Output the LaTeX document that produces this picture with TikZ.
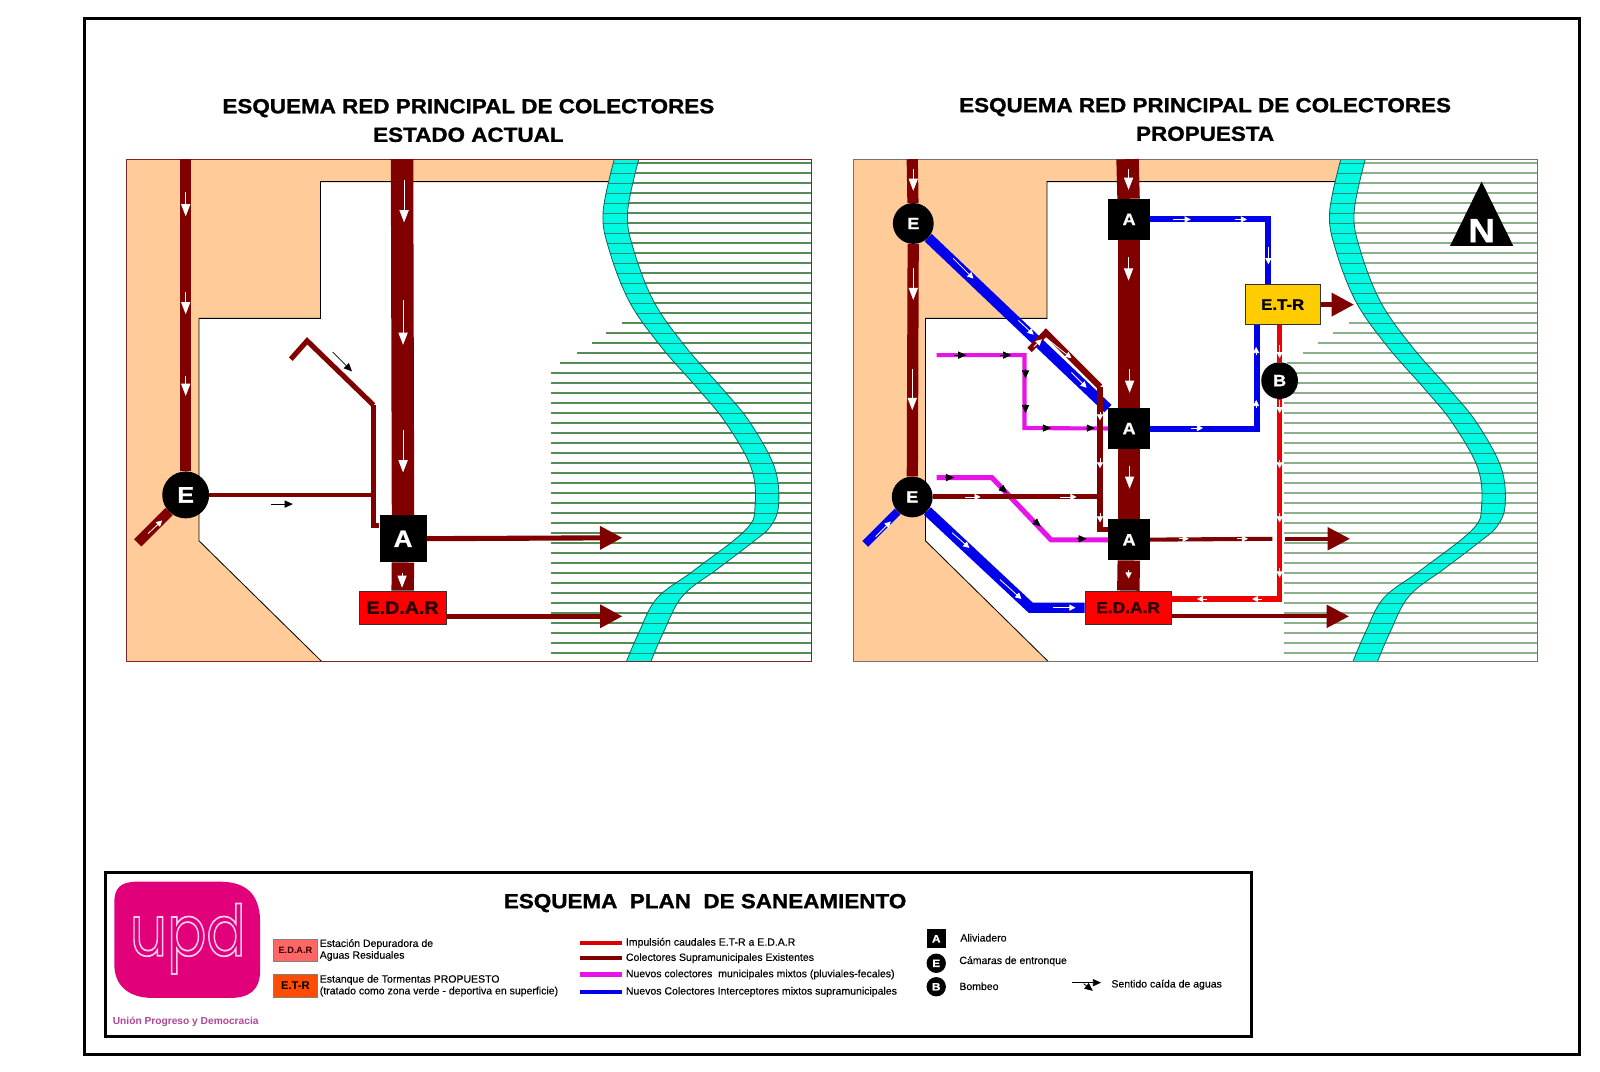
\documentclass[tikz,border=0pt]{standalone}
\usepackage{fontspec}
\setmainfont{Liberation Sans}
\newfontfamily\logofont{Poppins}
\newfontfamily\heavyfont{Liberation Sans Bold}[FakeBold=1.2,FakeStretch=1.1]
\newfontfamily\legfont{Liberation Sans}[FakeBold=0.3]
\usetikzlibrary{positioning, arrows.meta, calc}
\definecolor{sewerred}{RGB}{128,0,0}
\definecolor{newblue}{RGB}{0,0,235}
\definecolor{newpink}{RGB}{230,20,230}
\definecolor{pumpred}{RGB}{240,0,0}
\definecolor{cityorange}{RGB}{255,204,153}
\definecolor{rivercyan}{RGB}{0,250,225}
\definecolor{rivergrid}{RGB}{30,140,125}
\definecolor{updpink}{RGB}{226,0,122}
\definecolor{rowgreen}{RGB}{85,140,85}
\definecolor{rowpale}{RGB}{140,175,140}
\newcommand{\fs}[1]{\fontsize{#1}{#1}\selectfont}
\newcommand{\riverleft}{plot[smooth, tension=0.6] coordinates {(602,156) (591,208) (597,245) (617,296) (648,340) (684,381) (711,414) (736,458) (740,495) (731,519) (680,559) (644,586) (626,620) (614,648)}}
\newcommand{\riverright}{plot[smooth, tension=0.6] coordinates {(638,648) (650,620) (669,584) (704,557) (738,531) (755,516) (763,495) (759,458) (735,414) (708,381) (672,340) (641,296) (621,245) (615,208) (626,156)}}
\newcommand{\riverpath}{plot[smooth, tension=0.6] coordinates {(602,156) (591,208) (597,245) (617,296) (648,340) (684,381) (711,414) (736,458) (740,495) (731,519) (680,559) (644,586) (626,620) (614,648)}
  -- plot[smooth, tension=0.6] coordinates {(638,648) (650,620) (669,584) (704,557) (738,531) (755,516) (763,495) (759,458) (735,414) (708,381) (672,340) (641,296) (621,245) (615,208) (626,156)} -- cycle}
% orange city, green rows, river, frame
\newcommand{\basemap}[3]{
  \fill[cityorange] (124,156) -- (610,156) -- (604,178) -- (314,178) -- (314,312) -- (195,312) -- (195,530) -- (315,648) -- (124,648) -- cycle;
  \draw[line width=0.8pt] (604,178) -- (314,178) -- (314,312) -- (195,312) -- (195,530) -- (315,648);
  \foreach \k in {0,...,12} \draw[color=#1, line width=1.2pt] (608,{159.7+9.8*\k}) -- (795,{159.7+9.8*\k});
  \foreach \k in {13,14,15} \draw[color=#1, line width=1.2pt] (625,{159.7+9.8*\k}) -- (795,{159.7+9.8*\k});
  \foreach \k/\x in {16/610,17/594,18/580,19/565,20/549} \draw[color=#1, line width=1.2pt] (\x,{159.7+9.8*\k}) -- (795,{159.7+9.8*\k});
  \foreach \k in {21,...,49} \draw[color=#1, line width=1.2pt] (#3,{159.7+9.8*\k}) -- (795,{159.7+9.8*\k});
  \fill[rivercyan] \riverpath;
  \begin{scope}
    \clip \riverpath;
    \foreach \k in {0,...,49} \draw[rivergrid, line width=0.8pt] (560,{159.7+9.8*\k}) -- (780,{159.7+9.8*\k});
  \end{scope}
  \draw[color=rivergrid!70!black, line width=0.8pt] \riverleft;
  \draw[color=rivergrid!70!black, line width=0.8pt] \riverright;
  \draw[color=#2, line width=1pt] (124,156) rectangle (795,648);
}

\begin{document}
\begin{tikzpicture}[
  x=1pt, y=-1pt,
  title/.style={font=\heavyfont\fs{20}, align=center, inner sep=0pt, text depth=0pt},
  aliv/.style={fill=black, text=white, font=\heavyfont\fs{16}, minimum width=41pt, minimum height=40pt, inner sep=0pt},
  aliva/.style={aliv, font=\heavyfont\fs{23}, minimum width=46pt, minimum height=46pt},
  chamber/.style={circle, fill=black, text=white, font=\heavyfont\fs{16}, minimum size=40pt, inner sep=0pt},
  chambera/.style={chamber, font=\heavyfont\fs{22}, minimum size=46pt},
  plant/.style={draw=black!80, fill=red, font=\heavyfont\fs{15.5}, text=black!85!red, minimum width=85pt, minimum height=33pt, inner sep=0pt},
  pipe/.style={color=sewerred, line width=4pt},
  bigpipe/.style={color=sewerred, line width=22pt},
  midpipe/.style={color=sewerred, line width=11pt},
  bluepipe/.style={color=newblue, line width=10pt},
  outfall/.style={color=sewerred, line width=5pt, -{Triangle[length=22pt,width=22pt]}},
  flow/.style={white, line width=1pt, -{Triangle[length=12pt,width=9pt]}},
  flowsmall/.style={white, line width=0.8pt, -{Triangle[length=6pt,width=6pt]}},
  flowblack/.style={black, line width=0.8pt, -{Triangle[length=8pt,width=7pt]}},
  legtext/.style={anchor=west, font=\legfont\fontsize{10.3}{11.5}\selectfont, inner sep=0pt, align=left},
  legline/.style={minimum width=42pt, minimum height=4pt, inner sep=0pt}
]
\useasboundingbox (0,0) rectangle (1568,1050);
\draw[line width=3pt] (83,18) rectangle (1548,1033);

\node[title] (titlea) at (459,118) {ESQUEMA RED PRINCIPAL DE COLECTORES\\[8pt]ESTADO ACTUAL};
\node[title] (titleb) at (1181,117) {ESQUEMA RED PRINCIPAL DE COLECTORES\\[8pt]PROPUESTA};

% left map
\basemap{rowgreen}{sewerred!70!gray}{540}
\node[chambera] (e) at (182,485) {E};
\node[aliva] (a) at (395,528) {A};
\node[plant, font=\heavyfont\fs{17.5}] (edar) at (394.5,595.5) {E.D.A.R};
\coordinate (coltop) at (182,156);
\coordinate (maintop) at (394,156);
\coordinate (branch) at (135,532);
\coordinate (stub) at (285,352);
\coordinate (peak) at (301,334);
\coordinate (knee) at (366,397);
\coordinate (toe) at (366,515);
\coordinate (join) at (366,485);
\coordinate (outa) at (610,527);
\coordinate (outb) at (610,604);
\draw[midpipe] (coltop) -- (e);
\draw[color=sewerred, line width=10pt] (e) -- (branch);
\draw[bigpipe] (maintop) -- (a);
\draw[bigpipe] (a) -- (edar);
\draw[color=sewerred, line width=5pt] (stub) -- (peak) -- (knee);
\draw[pipe] (knee) -- (toe) -- (toe -| a.west);
\draw[pipe] (e) -- (join);
\draw[outfall] (a) -- (outa);
\draw[outfall] (outb -| edar.east) -- (outb);
\draw[flow] (182,188) -- (182,212);
\draw[flow] (182,286) -- (182,308);
\draw[flow] (182,368) -- (182,388);
\draw[flow] (396,176) -- (396,218);
\draw[flow] (395,294) -- (395,338);
\draw[flow] (395,421) -- (395,463);
\draw[flow] (394,562) -- (394,576);
\draw[flowsmall] (145,523) -- (159,510);
\draw[flowblack] (326,345) -- (345,364);
\draw[flowblack] (266,494) -- (287,494);

% right map
\begin{scope}[xshift=712pt]
  \basemap{rowpale}{black!55}{546}
\end{scope}
\node[chamber] (ea) at (895,219) {E};
\node[chamber] (eb) at (894,487) {E};
\node[chamber, minimum size=36pt] (b) at (1254,373) {B};
\node[aliv] (aa) at (1106.5,215) {A};
\node[aliv] (ab) at (1106.5,420) {A};
\node[aliv] (ac) at (1106.5,529) {A};
\node[plant] (edarb) at (1105.5,595.5) {E.D.A.R};
\node[draw=black!80, fill={rgb,255:red,255;green,204;blue,0}, font=\heavyfont\fs{15}, minimum width=74pt, minimum height=39pt, inner sep=0pt] (etr) at (1257,298.5) {E.T-R};
\coordinate (coltopb) at (894,156);
\coordinate (maintopb) at (1105,156);
\coordinate (branchb) at (848,533);
\coordinate (bluelow) at (1010,595.5);
\coordinate (bluea) at (1243,215);
\coordinate (blueb) at (1232,420);
\coordinate (redcorner) at (1254,587);
\coordinate (pinka) at (918,348);
\coordinate (pinkb) at (1004,348);
\coordinate (pinkc) at (1004,419.5);
\coordinate (pinkd) at (918,468);
\coordinate (pinke) at (972,468);
\coordinate (pinkf) at (1030,529);
\coordinate (stubb) at (1009,343);
\coordinate (peakb) at (1025,326);
\coordinate (kneeb) at (1078,379);
\coordinate (toeb) at (1078,519);
\coordinate (joinb) at (1078,487);
\coordinate (gapa) at (1247,528);
\coordinate (gapb) at (1259,528);
\coordinate (outc) at (1323,528);
\coordinate (outd) at (1322,604);
\coordinate (oute) at (1327,298.5);
\draw[midpipe] (coltopb) -- (ea);
\draw[midpipe] (ea) -- (eb);
\draw[bigpipe] (maintopb) -- (aa);
\draw[bigpipe] (aa) -- (ab);
\draw[bigpipe] (ab) -- (ac);
\draw[bigpipe] (ac) -- (edarb);
\draw[color=newpink, line width=4pt] (pinka) -- (pinkb) -- (pinkc) -- (ab);
\draw[color=newpink, line width=5pt] (pinkd) -- (pinke) -- (pinkf) -- (ac);
\draw[color=newblue, line width=8pt] (eb) -- (branchb);
\draw[bluepipe] (ea) -- (ab);
\draw[bluepipe] (eb) -- (bluelow) -- (edarb);
\draw[color=newblue, line width=6pt] (aa) -- (bluea) -- (bluea |- etr.north);
\draw[color=newblue, line width=6pt] (ab) -- (blueb) -- (blueb |- etr.south);
\draw[color=pumpred, line width=5pt] (b.north |- etr.south) -- (b);
\draw[color=pumpred, line width=5pt] (b) -- (redcorner) -- (redcorner -| edarb.east);
\draw[color=sewerred, line width=6pt] (stubb) -- (peakb) -- (kneeb);
\draw[color=sewerred, line width=5pt] (kneeb) -- (toeb) -- (toeb -| ac.west);
\draw[color=sewerred, line width=5pt] (eb) -- (joinb);
\draw[pipe] (ac) -- (gapa);
\draw[outfall, line width=4pt] (gapb) -- (outc);
\draw[outfall, line width=4pt] (outd -| edarb.east) -- (outd);
\draw[outfall] (etr) -- (oute);
\draw[flow] (895,166) -- (895,187);
\draw[flow] (895,263) -- (895,294);
\draw[flow] (894,362) -- (894,402);
\draw[flow] (1106,166) -- (1106,186);
\draw[flow] (1106,252) -- (1106,275);
\draw[flow] (1107,362) -- (1107,385);
\draw[flow] (1107,457) -- (1107,479);
\draw[flowsmall] (1106,559) -- (1106,567);
\draw[flowsmall] (858,526) -- (873,511);
\draw[flowsmall] (934,253) -- (954,273);
\draw[flowsmall] (998,314) -- (1013,328);
\draw[flowsmall] (1050,365) -- (1065,380);
\draw[flowsmall] (933,522) -- (950,537);
\draw[flowsmall] (980,568) -- (1001,587);
\draw[flowsmall] (1032,595.5) -- (1054,595.5);
\draw[flowsmall] (1013,340) -- (1021,332.5);
\draw[flowsmall] (1026,332) -- (1050,351);
\draw[flowsmall] (1078,404) -- (1078,412);
\draw[flowsmall] (1078,449) -- (1078,459);
\draw[flowsmall] (1078,503) -- (1078,512);
\draw[flowsmall] (946,487) -- (961,487);
\draw[flowsmall] (1039,487) -- (1055,487);
\draw[flowsmall] (1155,528) -- (1165,528);
\draw[flowsmall] (1212,528) -- (1223,528);
\draw[flowsmall] (1150,215) -- (1167,215);
\draw[flowsmall] (1210,215) -- (1222,215);
\draw[flowsmall] (1243,242) -- (1243,259);
\draw[flowsmall] (1167,419.5) -- (1179,419.5);
\draw[flowsmall] (1231,348) -- (1231,340);
\draw[flowsmall] (1231,400) -- (1231,392);
\draw[flowsmall] (1254,338) -- (1254,351);
\draw[flowsmall] (1254,392) -- (1254,405);
\draw[flowsmall] (1254,451) -- (1254,459);
\draw[flowsmall] (1254,503) -- (1254,512);
\draw[flowsmall] (1254,557) -- (1254,566);
\draw[flowsmall] (1183,587) -- (1173,587);
\draw[flowsmall] (1237,587) -- (1227,587);
\draw[flowblack] (935,348) -- (947,348);
\draw[flowblack] (980,348) -- (991,348);
\draw[flowblack] (1005,362) -- (1005,371);
\draw[flowblack] (1005,396) -- (1005,405);
\draw[flowblack] (1021,419.5) -- (1030,419.5);
\draw[flowblack] (1064,419.5) -- (1073,419.5);
\draw[flowblack] (926,468) -- (935,468);
\draw[flowblack] (980,477) -- (987,483);
\draw[flowblack] (1013,510) -- (1020,516);
\draw[flowblack] (1055,528) -- (1065,528);
\fill (1421,241) -- (1483,241) -- (1452,178) -- cycle;
\node[text=white, font=\heavyfont\fs{33}, inner sep=0pt] (north) at (1452,226) {N};

% legend
\draw[line width=3pt] (103,855) rectangle (1226,1016);
\node[font=\heavyfont\fs{20}, inner sep=0pt] (legtitle) at (691,885) {ESQUEMA\ \ PLAN\ \ DE SANEAMIENTO};
\fill[updpink] (112,885) .. controls (112,870) and (118,864) .. (135,864) -- (215,864) .. controls (245,864) and (255,880) .. (255,905) -- (255,950) .. controls (255,970) and (245,978) .. (225,978) -- (150,978) .. controls (125,978) and (112,965) .. (112,945) -- cycle;
\node[text=white, inner sep=0pt, font=\logofont\fs{60}, yscale=1.15, xscale=0.95, transform shape] (upd) at (184,920) {\special{pdf:code q 1 Tr 1.5 w 1 0.8 0.92 RG 0.89 0 0.48 rg}upd\special{pdf:code Q}};
\node[text={rgb,255:red,175;green,70;blue,150}, font=\fs{10}\bfseries, inner sep=0pt] (updname) at (182,1001) {Unión Progreso y Democracia};

\node[fill=red!60!white, draw=black!50, font=\fs{9}\bfseries, text=black!80!red, minimum width=43pt, minimum height=22pt, inner sep=0pt] (legedar) at (289.5,931) {E.D.A.R};
\node[fill=orange!60!red, draw=black!50, font=\fs{11}\bfseries, minimum width=43pt, minimum height=22pt, inner sep=0pt] (legetr) at (289.5,966) {E.T-R};
\node[legtext, right=2pt of legedar] (txtedar) {Estación Depuradora de\\Aguas Residuales};
\node[legtext, right=2pt of legetr] (txtetr) {Estanque de Tormentas PROPUESTO\\(tratado como zona verde - deportiva en superficie)};
\node[legline, fill=pumpred!90!black] (lineimp) at (589,924) {};
\node[legline, fill=sewerred] (linecol) at (589,939) {};
\node[legline, fill=newpink] (linepink) at (589,955) {};
\node[legline, fill=newblue] (lineblue) at (589,972) {};
\node[legtext, right=3pt of lineimp] (txtimp) {Impulsión caudales E.T-R a E.D.A.R};
\node[legtext, right=3pt of linecol] (txtcol) {Colectores Supramunicipales Existentes};
\node[legtext, right=3pt of linepink] (txtpink) {Nuevos colectores\ \ municipales mixtos (pluviales-fecales)};
\node[legtext, right=3pt of lineblue] (txtblue) {Nuevos Colectores Interceptores mixtos supramunicipales};
\node[aliv, font=\heavyfont\fs{10.5}, minimum width=19pt, minimum height=19pt] (lega) at (917.5,920) {A};
\node[chamber, font=\heavyfont\fs{10.5}, minimum size=19pt] (lege) at (917.5,944) {E};
\node[chamber, font=\heavyfont\fs{10.5}, minimum size=19pt] (legb) at (917.5,967) {B};
\node[legtext] (txta) at (941,919) {Aliviadero};
\node[legtext] (txte) at (940,942) {Cámaras de entronque};
\node[legtext] (txtb) at (940,966.5) {Bombeo};
\node[legtext] (txtfall) at (1089,965) {Sentido caída de aguas};
\coordinate (fallb) at (1051,963);
\coordinate (fallc) at (1079,963);
\coordinate (falld) at (1062,964);
\coordinate (falle) at (1071,971);
\draw[flowblack] (fallb) -- (fallc);
\draw[flowblack] (falld) -- (falle);
\end{tikzpicture}
\end{document}
